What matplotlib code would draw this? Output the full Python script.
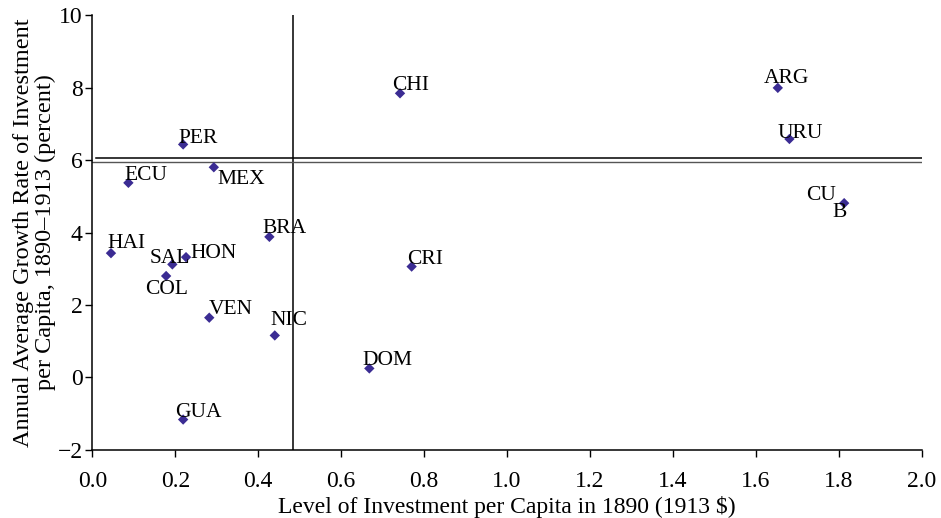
import matplotlib
matplotlib.use("Agg")
import matplotlib.pyplot as plt

plt.rcParams["font.family"] = ["Liberation Serif", "DejaVu Serif"]

countries = ["CHI", "ARG", "URU", "CU\nB", "PER", "ECU", "MEX", "HAI", "SAL",
             "HON", "COL", "BRA", "VEN", "NIC", "DOM", "CRI", "GUA"]
invest_1890 = [0.742, 1.653, 1.681, 1.813, 0.219, 0.087, 0.293, 0.045, 0.193,
               0.226, 0.178, 0.427, 0.282, 0.440, 0.668, 0.770, 0.219]
growth_rate = [7.84, 7.99, 6.58, 4.81, 6.43, 5.37, 5.80, 3.43, 3.12,
               3.32, 2.80, 3.88, 1.65, 1.16, 0.25, 3.06, -1.16]

mean_invest = 0.483
mean_growth = [6.05, 5.95]

# label offsets in pixels (left edge, baseline) relative to the point
offsets = {
    "CHI": (-8, 3), "ARG": (-14, 5), "URU": (-12, 1), "PER": (-5, 1),
    "ECU": (-4, 3), "MEX": (4, -17), "HAI": (-4, 5), "SAL": (-23, 1),
    "HON": (4, -1), "COL": (-21, -18), "BRA": (-7, 4), "VEN": (-1, 4),
    "NIC": (-4, 10), "DOM": (-7, 3), "CRI": (-5, 3), "GUA": (-8, 3),
}

fig = plt.figure(figsize=(9.41, 5.18), dpi=100)
ax = fig.add_axes([0.0981, 0.1313, 0.9795 - 0.0981, 0.971 - 0.1313])

ax.scatter(invest_1890, growth_rate, marker="D", s=28, color="#3B2C93",
           edgecolors="none", zorder=3)

for name, x, y in zip(countries, invest_1890, growth_rate):
    if "\n" in name:
        top, bottom = name.split("\n")
        ax.annotate(top, (x, y), xytext=(-8, 3), textcoords="offset pixels",
                    ha="right", va="baseline", fontsize=15.5)
        ax.annotate(bottom, (x, y), xytext=(-12, -14), textcoords="offset pixels",
                    ha="left", va="baseline", fontsize=15.5)
    else:
        dx, dy = offsets[name]
        ax.annotate(name, (x, y), xytext=(dx, dy), textcoords="offset pixels",
                    ha="left", va="baseline", fontsize=15.5)

ax.axvline(mean_invest, color="black", lw=1.1)
ax.axhline(mean_growth[0], xmin=0.005, color="black", lw=1.1)
ax.axhline(mean_growth[1], color="#555555", lw=1.0)

ax.set_xlim(0, 2.0)
ax.set_ylim(-2, 10)
ax.set_xticks([i * 0.2 for i in range(11)])
ax.set_xticklabels([f"{i * 0.2:.1f}" for i in range(11)])
ax.set_yticks(range(-2, 11, 2))
ax.set_yticklabels(["\u22122" if v < 0 else str(v) for v in range(-2, 11, 2)])
ax.tick_params(direction="out", length=5, width=1, labelsize=17)
ax.tick_params(axis="x", pad=10)
ax.tick_params(axis="y", pad=2)

for side in ["top", "right"]:
    ax.spines[side].set_visible(False)
for side in ["left", "bottom"]:
    ax.spines[side].set_linewidth(1.1)

ax.set_xlabel("Level of Investment per Capita in 1890 (1913 $)", fontsize=17, labelpad=3)
ax.set_ylabel("Annual Average Growth Rate of Investment\nper Capita, 1890\u20131913 (percent)",
              fontsize=17.5, labelpad=1, linespacing=1.05)

fig.savefig("out.png", dpi=100)
